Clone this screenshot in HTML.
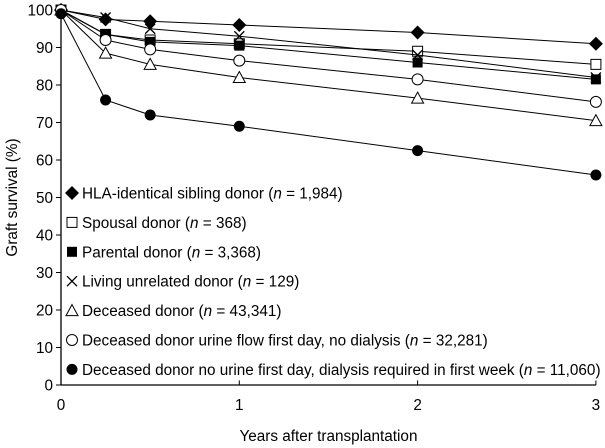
<!DOCTYPE html>
<html><head><meta charset="utf-8"><style>
body{margin:0;background:#fff}
svg{display:block;font-family:"Liberation Sans",Arial,sans-serif}
</style></head><body>
<svg id="c" width="605" height="448"></svg>
<script>
const years=[0,0.25,0.5,1,2,3];
const hla=[100,97.5,97,96,94,91];
const spousal=[100,93.5,92,91,89,85.5];
const parental=[100,93.5,91.5,90.5,86,81.5];
const livingUnrelated=[100,98,95,93,88,82];
const deceased=[100,88.5,85.5,82,76.5,70.5];
const urineFlow=[100,92,89.5,86.5,81.5,75.5];
const noUrine=[99,76,72,69,62.5,56];
const yTicks=[0,10,20,30,40,50,60,70,80,90,100];
const xTicks=[0,1,2,3];
const labels=[
 ["HLA-identical sibling donor ","1,984"],
 ["Spousal donor ","368"],
 ["Parental donor ","3,368"],
 ["Living unrelated donor ","129"],
 ["Deceased donor ","43,341"],
 ["Deceased donor urine flow first day, no dialysis ","32,281"],
 ["Deceased donor no urine first day, dialysis required in first week ","11,060"]];
const NS="http://www.w3.org/2000/svg";
const svg=document.getElementById('c');
const X=v=>61+v*178.3, Y=v=>385-v*3.75;
function el(t,a,p){const e=document.createElementNS(NS,t);for(const k in a)e.setAttribute(k,a[k]);(p||svg).appendChild(e);return e;}
let ax=el('line',{x1:61,y1:Y(100),x2:61,y2:385,stroke:'#000','stroke-width':1.3});


let bx=el('line',{x1:61,y1:385,x2:X(3),y2:385,stroke:'#000','stroke-width':1.3});


yTicks.forEach(v=>{
 el('line',{x1:56,x2:61,y1:Y(v),y2:Y(v),stroke:'#000'});
 let t=el('text',{x:53,y:Y(v)+5.5,'text-anchor':'end','font-size':15.3});t.textContent=v;
 
 
});
xTicks.forEach(v=>{
 el('line',{x1:X(v),x2:X(v),y1:379,y2:385,stroke:'#000'});
 let t=el('text',{x:X(v),y:410,'text-anchor':'middle','font-size':15.3});t.textContent=v;
 
 
});
let xt=el('text',{x:X(1.5),y:441,'text-anchor':'middle','font-size':15.3});xt.textContent='Years after transplantation';


let yt=el('text',{x:0,y:0,'text-anchor':'middle','font-size':15.3,transform:'translate(17,'+Y(50)+') rotate(-90)'});yt.textContent='Graft survival (%)';


function marker(type,x,y,g){
 const s={stroke:'#000','stroke-width':1};
 if(type==='diamond')el('polygon',{points:`${x},${y-7} ${x+7},${y} ${x},${y+7} ${x-7},${y}`,fill:'#000'},g);
 if(type==='sq-open')el('rect',{x:x-5,y:y-5,width:10,height:10,fill:'#fff',...s},g);
 if(type==='sq')el('rect',{x:x-5,y:y-5,width:10,height:10,fill:'#000'},g);
 if(type==='x'){el('path',{d:`M${x-5} ${y-5}L${x+5} ${y+5}M${x+5} ${y-5}L${x-5} ${y+5}`,...s,'stroke-width':1.3},g);}
 if(type==='tri')el('polygon',{points:`${x},${y-6} ${x+6},${y+5} ${x-6},${y+5}`,fill:'#fff',...s},g);
 if(type==='circ')el('circle',{cx:x,cy:y,r:5.5,fill:'#fff',...s},g);
 if(type==='dot')el('circle',{cx:x,cy:y,r:5.5,fill:'#000'},g);
}
const series=[[hla,'diamond'],[spousal,'sq-open'],[parental,'sq'],[livingUnrelated,'x'],[deceased,'tri'],[urineFlow,'circ'],[noUrine,'dot']];
series.forEach(([d,m],i)=>{
 const g=el('g',{});
 
 
 el('polyline',{points:d.map((v,j)=>X(years[j])+','+Y(v)).join(' '),fill:'none',stroke:'#000','stroke-width':1},g);
 d.forEach((v,j)=>marker(m,X(years[j]),Y(v),g));
});
labels.forEach((l,i)=>{
 const y=193+i*29.4;
 const g=el('g',{});
 
 
 el('rect',{x:64,y:y-11,width:540,height:22,fill:'#fff'},g);
 marker(series[i][1],72,y,g);
 const t=el('text',{x:82,y:y+5.5,'font-size':15.3},g);
 t.innerHTML=l[0]+'(<tspan font-style="italic">n</tspan> = '+l[1]+')';
});
</script>
</body></html>
